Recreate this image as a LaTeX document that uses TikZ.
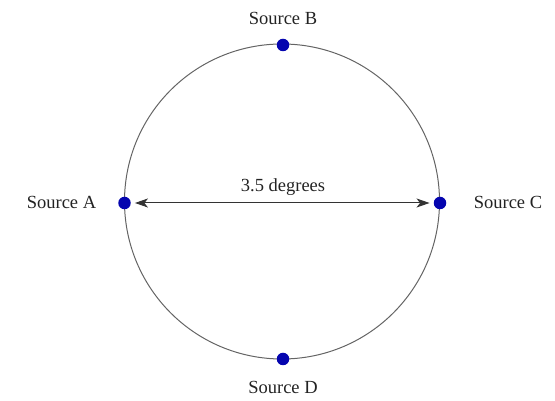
\documentclass[tikz,border=0pt]{standalone}
\usepackage{fontspec}
\setmainfont{Liberation Serif}
\usetikzlibrary{arrows.meta}
\definecolor{dotblue}{RGB}{5,5,175}
\definecolor{linegray}{RGB}{100,100,100}
\definecolor{textgray}{RGB}{35,35,35}
\tikzset{
  source/.style={circle,fill=dotblue,draw=none,minimum size=12.5pt,inner sep=0pt},
  lbl/.style={font=\fontsize{18.5}{20}\selectfont,text=textgray,inner sep=0pt,anchor=base},
  ring/.style={draw=linegray,line width=1pt},
  tip/.style={Stealth[length=13pt,width=9pt,inset=3.5pt]},
  measure/.style={draw=black!80,line width=1pt,{Stealth[length=13pt,width=9pt,inset=3.5pt]}-{Stealth[length=13pt,width=9pt,inset=3.5pt]},shorten <=4pt,shorten >=4pt}
}
\begin{document}
\begin{tikzpicture}[x=1pt,y=1pt]
\useasboundingbox (0,0) rectangle (555,401);
\coordinate (O) at (282,199.5);
\draw[ring] (O) circle (157.5);
\node[source] (A) at (124.5,198) {};
\node[source] (C) at (440,198) {};
\node[source] (B) at (283,356) {};
\node[source] (D) at (283,42) {};
\draw[measure] (A) -- (C);
\node[lbl] (tA) at (61.5,192) {Source A};
\node[lbl] (tC) at (508,192) {Source C};
\node[lbl] (tB) at (283,376) {Source B};
\node[lbl] (tD) at (283,7) {Source D};
\node[lbl] (deg) at (283,209) {3.5 degrees};
\end{tikzpicture}
\end{document}
